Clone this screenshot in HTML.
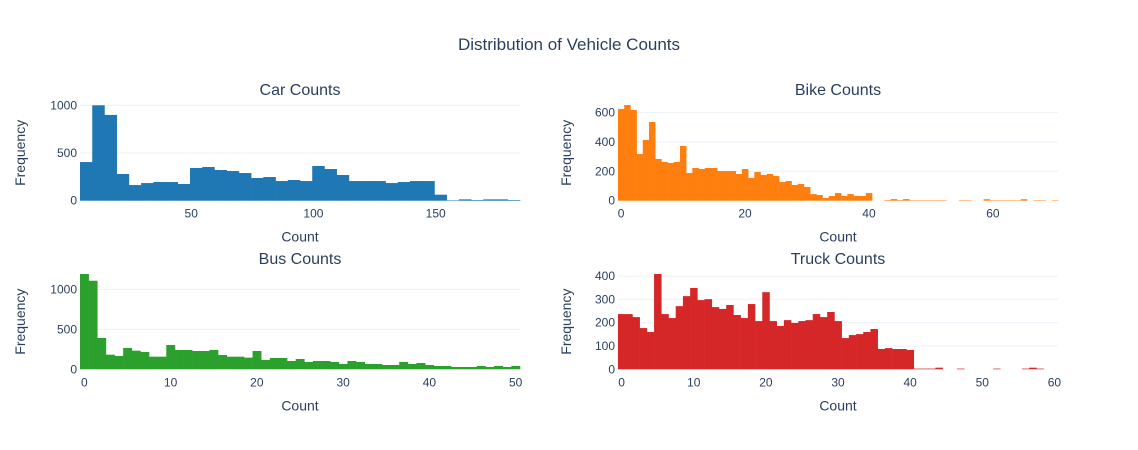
<!DOCTYPE html>
<html><head><meta charset="utf-8"><style>
body{margin:0;background:#fff}
svg{display:block;font-family:"Liberation Sans",Arial,sans-serif}
</style></head><body>
<svg id="chart" width="1138" height="450">
<text x="569" y="50" text-anchor="middle" font-size="17" fill="#2a3f5f">Distribution of Vehicle Counts</text>
</svg>
<script>
const carEdges = [4.5, 5];
const carCounts = [405,1000,899,280,164,185,196,196,175,343,353,322,311,290,238,248,206,217,206,364,332,269,206,206,206,185,196,206,206,63,5,14,7,14,14,7];
const bikeEdges = [-0.5, 1];
const bikeCounts = [625,652,618,318,414,536,284,264,257,264,373,189,223,216,223,223,202,202,202,182,216,155,195,175,182,168,127,134,107,114,93,45,39,18,32,52,32,45,32,32,52,0,0,4,11,4,11,3,3,3,3,3,3,0,0,3,3,0,0,10,3,3,3,3,3,10,0,3,3,0,3];
const busEdges = [-0.5, 1];
const busCounts = [1192,1108,392,183,167,267,233,217,158,158,304,242,242,229,229,242,179,158,158,146,229,117,142,142,104,129,92,104,104,92,67,104,92,67,67,54,54,92,67,79,54,42,42,29,29,29,42,29,42,29,42];
const truckEdges = [-0.5, 1];
const truckCounts = [237,237,224,177,160,409,237,220,271,314,349,297,301,267,259,276,233,220,280,207,331,207,186,211,199,207,211,237,224,246,207,134,147,151,160,173,87,91,87,87,83,3,3,3,7,0,0,3,0,0,0,0,3,0,0,0,3,7,3,0,0];
const carTicksX = [50,100,150], carTicksY = [0,500,1000];
const bikeTicksX = [0,20,40,60], bikeTicksY = [0,200,400,600];
const busTicksX = [0,10,20,30,40,50], busTicksY = [0,500,1000];
const truckTicksX = [0,10,20,30,40,50,60], truckTicksY = [0,100,200,300,400];

const NS = "http://www.w3.org/2000/svg";
const svg = document.getElementById('chart');
function mk(tag, attrs, parent){const e=document.createElementNS(NS,tag);for(const k in attrs)e.setAttribute(k,attrs[k]);(parent||svg).appendChild(e);return e;}

function panel(o){
  const g = mk('g',{});
  
  
  const sx = v => o.x0 + (v - o.xmin)/(o.xmax - o.xmin)*(o.x1 - o.x0);
  const sy = v => o.yb - v/o.ymax*(o.yb - o.yt);
  o.ticksY.forEach(t=>{
    if(t>0){const l=mk('line',{x1:o.x0,x2:o.x1,y1:sy(t),y2:sy(t),stroke:'#ebf0f8','stroke-width':1},g);
      
      }
    const tx=mk('text',{x:o.x0-3,y:sy(t)+4,'text-anchor':'end','font-size':12,fill:'#2a3f5f'},g);
    tx.textContent=t;
    
    
  });
  o.counts.forEach((c,i)=>{
    if(c<=0) return;
    const a=o.edges[0]+i*o.edges[1], b=a+o.edges[1];
    const r=mk('rect',{x:sx(a),y:sy(c),width:sx(b)-sx(a)+0.3,height:sy(0)-sy(c),fill:o.color},g);
    
    
  });
  o.ticksX.forEach(t=>{
    const tx=mk('text',{x:sx(t),y:o.yb+17,'text-anchor':'middle','font-size':12,fill:'#2a3f5f'},g);
    tx.textContent=t;
    
    
  });
  const cx=(o.x0+o.x1)/2;
  const ti=mk('text',{x:cx,y:o.yt-10,'text-anchor':'middle','font-size':16,fill:'#2a3f5f'},g);
  ti.textContent=o.title;
  
  
  const xt=mk('text',{x:cx,y:o.yb+41,'text-anchor':'middle','font-size':14,fill:'#2a3f5f'},g);
  xt.textContent='Count';
  
  
  const ym=(o.yt+o.yb)/2, yx=o.ytx;
  const yt=mk('text',{x:yx,y:ym,'text-anchor':'middle','font-size':14,fill:'#2a3f5f',transform:`rotate(-90 ${yx} ${ym})`},g);
  yt.textContent='Frequency';
  
  
}
panel({name:'car',title:'Car Counts',x0:80,x1:520,xmin:4.5,xmax:184.5,yt:105,yb:200.7,ymax:1003,ytx:25,edges:carEdges,counts:carCounts,ticksX:carTicksX,ticksY:carTicksY,color:'#1f77b4'});
panel({name:'bike',title:'Bike Counts',x0:618,x1:1058,xmin:-0.5,xmax:70.5,yt:105,yb:200.7,ymax:652,ytx:571,edges:bikeEdges,counts:bikeCounts,ticksX:bikeTicksX,ticksY:bikeTicksY,color:'#ff7f0e'});
panel({name:'bus',title:'Bus Counts',x0:80,x1:520,xmin:-0.5,xmax:50.5,yt:274,yb:369.3,ymax:1192,ytx:25,edges:busEdges,counts:busCounts,ticksX:busTicksX,ticksY:busTicksY,color:'#2ca02c'});
panel({name:'truck',title:'Truck Counts',x0:618,x1:1058,xmin:-0.5,xmax:60.5,yt:274,yb:369.3,ymax:409,ytx:571,edges:truckEdges,counts:truckCounts,ticksX:truckTicksX,ticksY:truckTicksY,color:'#d62728'});
</script>
</body></html>
